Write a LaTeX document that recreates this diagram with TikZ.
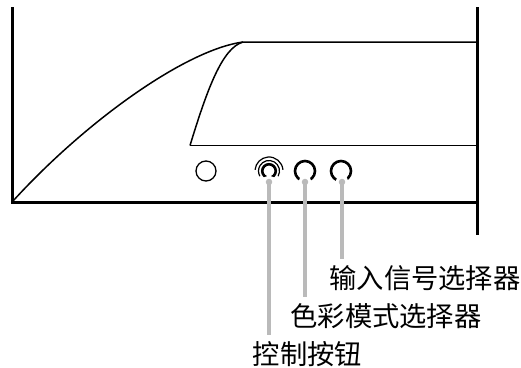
\documentclass[tikz,border=0pt]{standalone}
\usepackage{fontspec}
\setmainfont{Noto Sans CJK SC}
\usepackage{tikz}
\usetikzlibrary{calc,
                positioning}

\begin{document}
\begin{tikzpicture}[x=1pt, y=-1pt,
                    frameline/.style={line width=3pt, black},
                    panelline/.style={line width=1.5pt, black},
                    button/.style={draw, circle, inner sep=0pt, minimum size=20pt, line width=2.6pt},
                    pointer/.style={circle, fill=black!27, draw=white, line width=3pt, inner sep=0pt, outer sep=0pt, minimum size=10pt},
                    leader/.style={line width=3.6pt, black!27, shorten >=6.5pt},
                    caption/.style={inner sep=0pt, font=\fontsize{27.3pt}{27.3pt}\selectfont}
                    ]

    \useasboundingbox (0,0) rectangle (521,367);

    % FRAME %
    \draw[frameline] (12.5,7) -- (12.5,202) -- (477.5,202);
    \draw[frameline] (477.5,7) -- (477.5,235);

    % SCREEN %
    \draw[panelline] (13,201) .. controls (85,122) and (185,50) .. (243,42) -- (477,42);
    \draw[panelline] (190,145.5) .. controls (207,90) and (222,48) .. (243,42);
    \draw[panelline] (190,145.5) -- (477,145.5);

    % BUTTONS %
    \node[button, line width=1.3pt] (power) at (206,171) {};
    \node[button, minimum size=13.5pt] (knob) at (269,171) {};
    \node[button] (colormode) at (305,171) {};
    \node[button] (inputsel) at (341,171) {};

    \draw[line width=1.2pt] ($(knob)+(-30:10.5pt)$) arc[start angle=-30, end angle=210, radius=10.5pt];
    \draw[line width=1.2pt] ($(knob)+(5:14pt)$) arc[start angle=5, end angle=175, radius=14pt];

    % LABELS %
    \node[caption] (inputtext) at (425,278) {输入信号选择器};
    \node[caption] (colortext) at (386,316) {色彩模式选择器};
    \node[caption] (knobtext) at (307.5,354) {控制按钮};

    % LEADERS %
    \foreach \a/\x/\b in {knob/269/knobtext, colormode/305/colortext, inputsel/342/inputtext}{
    \node[pointer] (\a dot) at (\x,182) {};
    \draw[leader] (\a dot.center) -- (\a dot |- \b.north);
    }
\end{tikzpicture}
\end{document}
